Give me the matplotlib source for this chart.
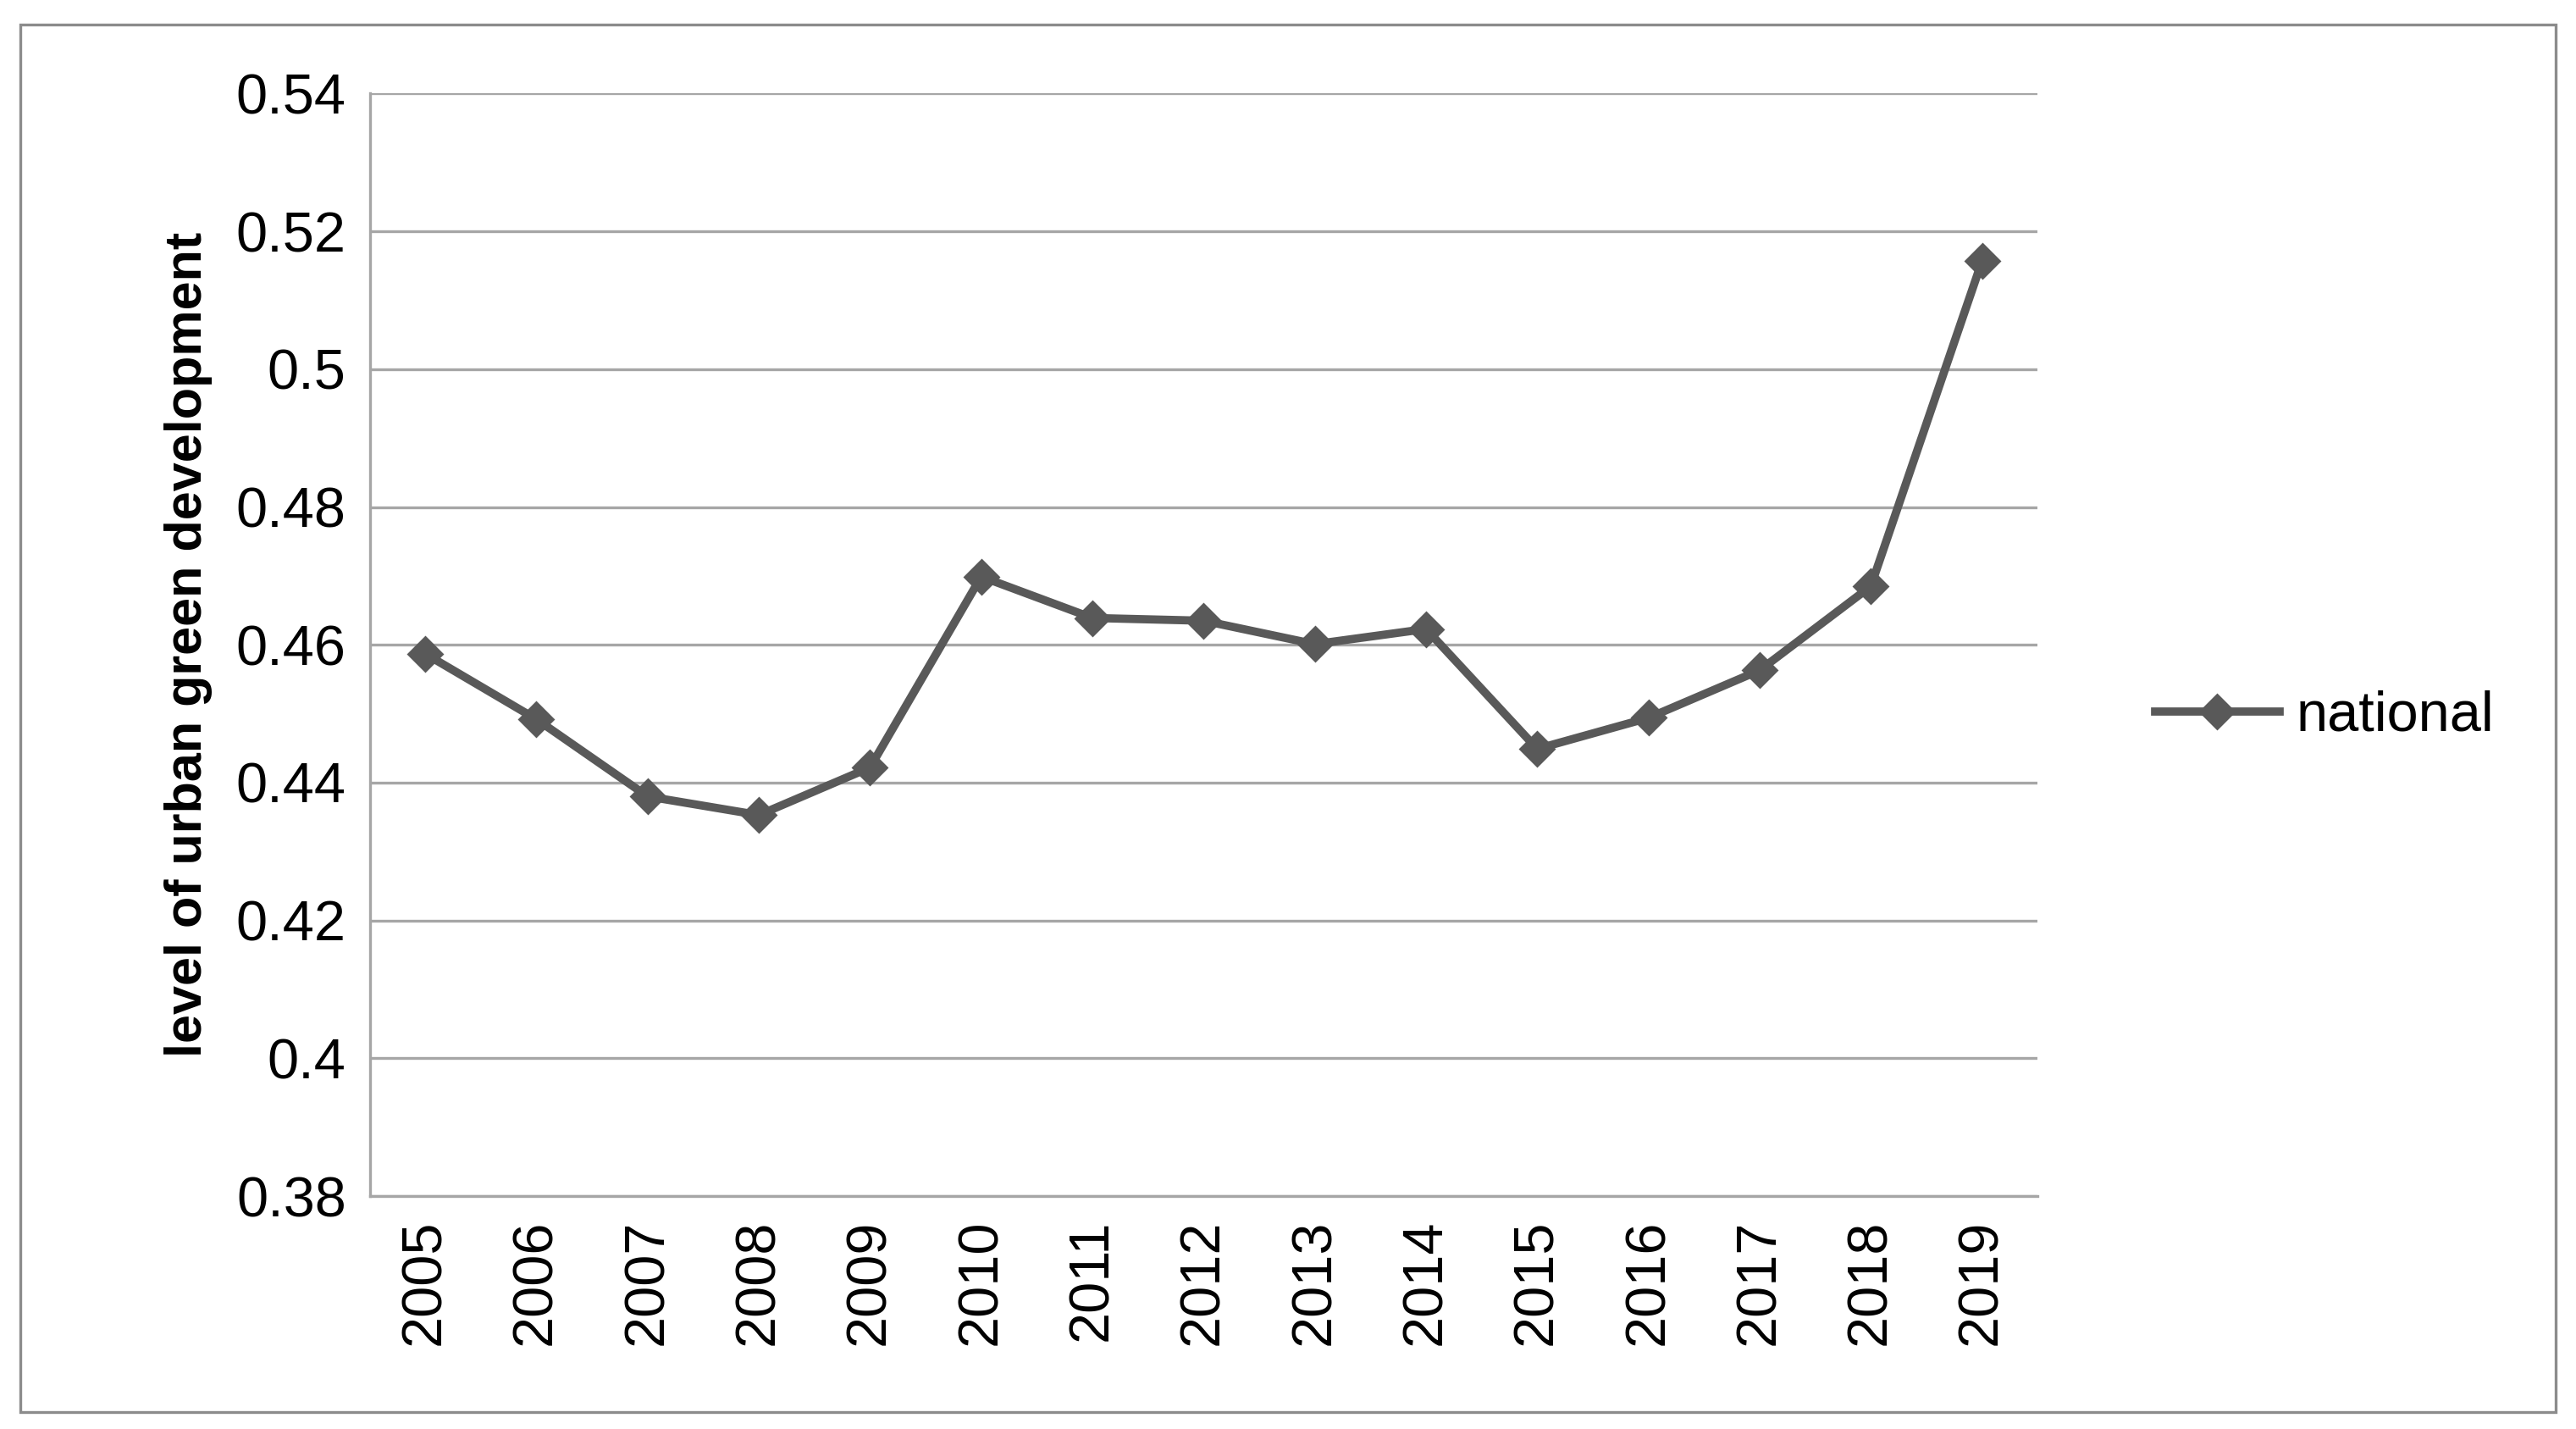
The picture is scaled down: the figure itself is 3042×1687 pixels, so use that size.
import matplotlib
matplotlib.use("Agg")
import matplotlib.pyplot as plt
from matplotlib.patches import Rectangle

plt.rcParams["font.family"] = ["Liberation Sans", "DejaVu Sans"]

years = [str(y) for y in range(2005, 2020)]
national = [0.4587, 0.4492, 0.4380, 0.4353, 0.4422, 0.4699, 0.4639, 0.4635,
            0.4601, 0.4623, 0.4449, 0.4494, 0.4563, 0.4685, 0.5157]
y_ticks = [0.38, 0.40, 0.42, 0.44, 0.46, 0.48, 0.50, 0.52, 0.54]
y_labels = ["0.38", "0.4", "0.42", "0.44", "0.46", "0.48", "0.5", "0.52", "0.54"]

fig = plt.figure(figsize=(15.21, 8.435), dpi=200)
fig.patches.append(Rectangle((0.008, 0.012), 0.984, 0.971, transform=fig.transFigure,
                             fill=False, edgecolor="#8c8c8c", linewidth=1.2))
ax = fig.add_axes([0.1435, 0.163, 0.6475, 0.7715])

x = list(range(len(years)))
ax.plot(x, national, color="#595959", linewidth=3.5, marker="D", markersize=10,
        label="national")

ax.set_xlim(-0.5, len(years) - 0.5)
ax.set_ylim(0.38, 0.54)
ax.set_yticks(y_ticks)
ax.set_yticklabels(y_labels)
ax.set_xticks(x)
ax.set_xticklabels(years, rotation=90)
ax.tick_params(axis="both", labelsize=24, length=0, pad=10)
ax.grid(axis="y", color="#a6a6a6", linewidth=1.2)
ax.set_axisbelow(True)
for s in ["top", "right"]:
    ax.spines[s].set_visible(False)
for s in ["left", "bottom"]:
    ax.spines[s].set_color("#a6a6a6")
    ax.spines[s].set_linewidth(1.2)

ax.set_ylabel("level of urban green development", fontsize=22, fontweight="bold", labelpad=10)
ax.legend(loc="center left", bbox_to_anchor=(1.04, 0.435), frameon=False, fontsize=24,
          handlelength=2.2, handletextpad=0.3)

fig.savefig("out.png", dpi=200)
